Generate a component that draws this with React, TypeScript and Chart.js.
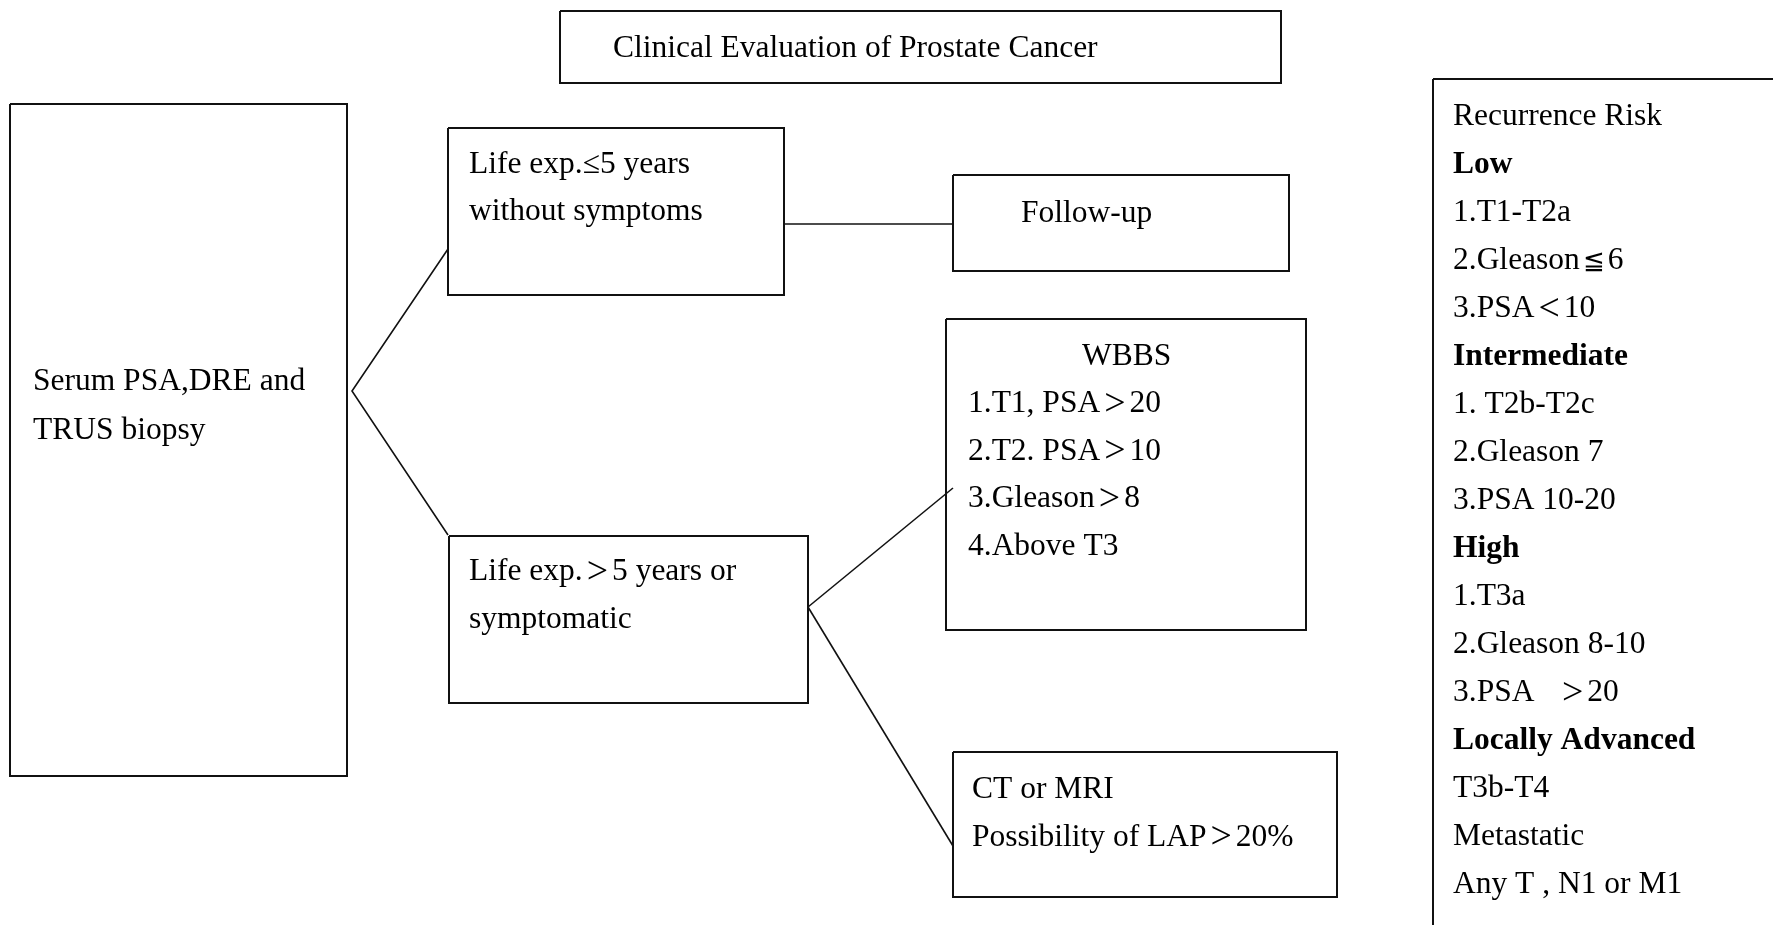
import React, { useEffect, useRef } from "react";
import { Chart, registerables } from "chart.js";

Chart.register(...registerables);

const W = 1773;
const H = 925;
const FONT = "'Liberation Serif', 'Times New Roman', 'DejaVu Serif', 'Noto Sans CJK SC', serif";
const FONT_SIZE = 31.5;

// Boxes (diagram coordinates)
const boxNames = ["title", "serum", "lifeShort", "followUp", "wbbs", "lifeLong", "ctMri", "risk"];
const boxLeft = [560, 10, 448, 953, 946, 449, 953, 1433];
const boxTop = [11, 104, 128, 175, 319, 536, 752, 79];
const boxRight = [1281, 347, 784, 1289, 1306, 808, 1337, 1800];
const boxBottom = [83, 776, 295, 271, 630, 703, 897, 960];

// Connector lines
const connectorX = [
  [448, 352, 448],
  [784, 953],
  [808, 953],
  [808, 953],
];
const connectorY = [
  [249, 391, 535],
  [224, 224],
  [607, 488],
  [607, 846],
];

// Text content
const titleLines = ["Clinical Evaluation of Prostate Cancer"];
const serumLines = ["Serum PSA,DRE and", "TRUS biopsy"];
const lifeShortLines = ["Life exp.\u22645 years", "without symptoms"];
const followUpLines = ["Follow-up"];
const wbbsHead = ["WBBS"];
const wbbsLines = ["1.T1, PSA>20", "2.T2. PSA>10", "3.Gleason>8", "4.Above T3"];
const lifeLongLines = ["Life exp.>5 years or", "symptomatic"];
const ctLines = ["CT or MRI", "Possibility of LAP>20%"];
const riskLines = [
  "Recurrence Risk",
  "Low",
  "1.T1-T2a",
  "2.Gleason\u22666",
  "3.PSA<10",
  "Intermediate",
  "1. T2b-T2c",
  "2.Gleason 7",
  "3.PSA 10-20",
  "High",
  "1.T3a",
  "2.Gleason 8-10",
  "3.PSA   >20",
  "Locally Advanced",
  "T3b-T4",
  "Metastatic",
  "Any T , N1 or M1",
];
const riskBold = ["Low", "Intermediate", "High", "Locally Advanced"];

// Text anchors: [lines, x, first baseline, line spacing]
const textGroups: [string[], number, number, number][] = [
  [titleLines, 613, 57, 48],
  [serumLines, 33, 390, 49],
  [lifeShortLines, 469, 173, 47],
  [followUpLines, 1021, 222, 48],
  [wbbsHead, 1082, 365, 48],
  [wbbsLines, 968, 412, 47.5],
  [lifeLongLines, 469, 580, 48],
  [ctLines, 972, 798, 47.5],
  [riskLines, 1453, 125, 48],
];

// Wide comparison symbols (drawn like full-width CJK forms)
const SYMBOLS: Record<string, { size: number; family: string; padL: number; padR: number; dy: number }> = {
  ">": { size: 1.2, family: "'Liberation Serif', serif", padL: 4, padR: 4, dy: 2.5 },
  "<": { size: 1.2, family: "'Liberation Serif', serif", padL: 4, padR: 4, dy: 2.5 },
  "\u2266": { size: 0.82, family: "'DejaVu Serif', serif", padL: 3, padR: 3, dy: 0 },
};

function drawRich(ctx: CanvasRenderingContext2D, text: string, x: number, y: number, bold: boolean) {
  const base = `${bold ? "bold " : ""}${FONT_SIZE}px ${FONT}`;
  let cx = x;
  let run = "";
  const flush = () => {
    if (!run) return;
    ctx.font = base;
    ctx.fillText(run, cx, y);
    cx += ctx.measureText(run).width;
    run = "";
  };
  for (const ch of text) {
    const s = SYMBOLS[ch];
    if (s) {
      flush();
      ctx.font = `${FONT_SIZE * s.size}px ${s.family}`;
      cx += s.padL;
      ctx.fillText(ch, cx, y + s.dy);
      cx += ctx.measureText(ch).width + s.padR;
    } else {
      run += ch;
    }
  }
  flush();
}

export default function App() {
  const ref = useRef<HTMLCanvasElement | null>(null);

  useEffect(() => {
    if (!ref.current) return;

    const boxDatasets = boxNames.map((name, i) => ({
      label: name,
      data: [
        { x: boxLeft[i], y: boxTop[i] },
        { x: boxRight[i], y: boxTop[i] },
        { x: boxRight[i], y: boxBottom[i] },
        { x: boxLeft[i], y: boxBottom[i] },
        { x: boxLeft[i], y: boxTop[i] },
      ],
      showLine: true,
      borderColor: "#111",
      borderWidth: 2,
      pointRadius: 0,
      fill: false,
      tension: 0,
      clip: false as any,
    }));

    const connectorDatasets = connectorX.map((xs, i) => ({
      label: "connector" + i,
      data: xs.map((x, j) => ({ x, y: connectorY[i][j] })),
      showLine: true,
      borderColor: "#111",
      borderWidth: 1.6,
      pointRadius: 0,
      fill: false,
      tension: 0,
      clip: false as any,
    }));

    const textPlugin = {
      id: "diagramText",
      afterDatasetsDraw(chart: any) {
        const ctx = chart.ctx as CanvasRenderingContext2D;
        const xs = chart.scales.x;
        const ys = chart.scales.y;
        ctx.save();
        ctx.fillStyle = "#000";
        ctx.textBaseline = "alphabetic";
        ctx.textAlign = "left";
        textGroups.forEach(([lines, x, y0, dy]) => {
          lines.forEach((line, k) => {
            const bold = lines === riskLines && riskBold.includes(line);
            drawRich(ctx, line, xs.getPixelForValue(x), ys.getPixelForValue(y0 + k * dy), bold);
          });
        });
        ctx.restore();
      },
    };

    const chart = new Chart(ref.current, {
      type: "scatter",
      data: { datasets: [...boxDatasets, ...connectorDatasets] as any },
      options: {
        animation: false,
        responsive: false,
        maintainAspectRatio: false,
        devicePixelRatio: 1,
        layout: { padding: 0 },
        scales: {
          x: { type: "linear", min: 0, max: W, display: false },
          y: { type: "linear", min: 0, max: H, reverse: true, display: false },
        },
        plugins: {
          legend: { display: false },
          tooltip: { enabled: false },
        },
        events: [],
      },
      plugins: [textPlugin],
    });

    return () => chart.destroy();
  }, []);

  return (
    <div style={{ position: "fixed", left: 0, top: 0, width: W, height: H, background: "#fff" }}>
      <canvas ref={ref} width={W} height={H} style={{ display: "block", width: W, height: H }} />
    </div>
  );
}
